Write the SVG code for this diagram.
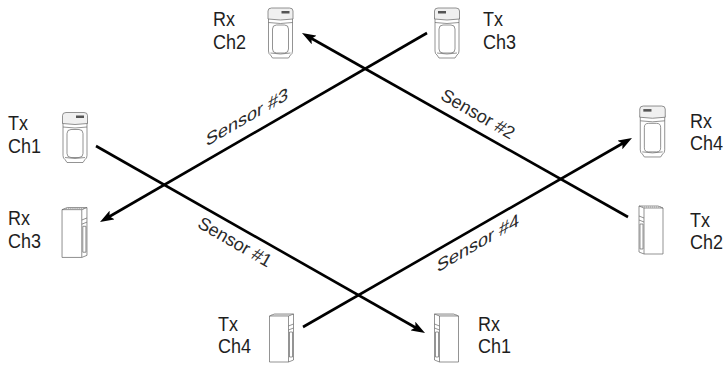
<svg xmlns="http://www.w3.org/2000/svg" xmlns:xlink="http://www.w3.org/1999/xlink" width="723" height="367" viewBox="0 0 723 367">
<style>
.lbl{font-family:"Liberation Sans",Arial,sans-serif;font-size:20px;fill:#1e1e1e}
.sl{font-family:"Liberation Sans",Arial,sans-serif;font-size:18px;fill:#2a2a2a}
.ic{fill:#fff;stroke:#666;stroke-width:0.7;stroke-linejoin:round}
.icn{fill:none;stroke:#666;stroke-width:0.7}
.con{fill:none;stroke:#000;stroke-width:2.6}
</style>
<defs>
<marker id="ah" viewBox="0 0 14 10" refX="8" refY="5" markerWidth="14" markerHeight="10" markerUnits="userSpaceOnUse" orient="auto">
<path d="M0,0 L14,5 L0,10 L3,5 Z" fill="#000"/>
</marker>
<g id="frontShape">
<path class="ic" d="M2,10 L2,44 Q2,47 4,48 L6,51 L22,51 L24,48 Q26,47 26,44 L26,10 Z"/>
<path class="ic" d="M1.5,12 L1.5,4 Q1.5,1 5,1 L23,1 Q26.5,1 26.5,4 L26.5,12 Q14,14 1.5,12 Z" style="fill:#f0f0f0"/>
<rect x="15" y="4" width="8" height="2.5" fill="#555"/>
<path class="icn" d="M2,15.5 Q14,17.5 26,15.5"/>
<rect class="ic" x="6" y="18" width="16" height="28" rx="4"/>
<path class="icn" d="M4,46 Q14,48 24,46"/>
</g>
<g id="sideShape">
<path class="ic" d="M1,3 L6,1 L25,1 L25,47 L20,49 L1,49 Z"/>
<path class="icn" d="M1,3 L20,3 L25,1"/>
<path d="M3,2 L23,2" stroke="#999" stroke-width="1" stroke-dasharray="1,1"/>
<path class="icn" d="M20,3 L20,49"/>
<path class="icn" d="M20,13 L25,11 M20,17 L25,15"/>
<rect class="ic" x="21" y="19" width="3" height="25"/>
</g>
<symbol id="frontR" viewBox="0 0 28 52"><use href="#frontShape"/></symbol>
<symbol id="frontL" viewBox="0 0 28 52"><use href="#frontShape" transform="translate(28,0) scale(-1,1)"/></symbol>
<symbol id="sideR" viewBox="0 0 26 50"><use href="#sideShape"/></symbol>
<symbol id="sideL" viewBox="0 0 26 50"><use href="#sideShape" transform="translate(26,0) scale(-1,1)"/></symbol>
</defs>
<rect width="723" height="367" fill="#fff"/>

<g id="connectors">
<path class="con" d="M96,146 L419.8,330" marker-end="url(#ah)"/>
<path class="con" d="M628,217 L307.2,36" marker-end="url(#ah)"/>
<path class="con" d="M427,33 L105.2,219" marker-end="url(#ah)"/>
<path class="con" d="M303,327 L626.8,141" marker-end="url(#ah)"/>
<text class="sl" text-anchor="middle" transform="translate(235,242) rotate(30)" y="6">Sensor #1</text>
<text class="sl" text-anchor="middle" transform="translate(478,114) rotate(30)" y="6">Sensor #2</text>
<text class="sl" text-anchor="middle" transform="translate(247,117) skewY(-30)" y="6">Sensor #3</text>
<text class="sl" text-anchor="middle" transform="translate(478,243) skewY(-30)" y="6">Sensor #4</text>
</g>

<g id="tx-ch1">
<use href="#frontR" x="61" y="110" width="28" height="55"/>
<text class="lbl" transform="translate(8,130) scale(0.9,1)">Tx</text><text class="lbl" transform="translate(8,153) scale(0.9,1)">Ch1</text>
</g>
<g id="rx-ch3">
<use href="#sideR" x="61" y="206" width="27" height="53"/>
<text class="lbl" transform="translate(8,225) scale(0.9,1)">Rx</text><text class="lbl" transform="translate(8,248) scale(0.9,1)">Ch3</text>
</g>
<g id="rx-ch2">
<use href="#frontR" x="266" y="7" width="29" height="52"/>
<text class="lbl" transform="translate(213,26) scale(0.9,1)">Rx</text><text class="lbl" transform="translate(213,49) scale(0.9,1)">Ch2</text>
</g>
<g id="tx-ch3">
<use href="#frontL" x="433" y="7" width="28" height="52"/>
<text class="lbl" transform="translate(483,26) scale(0.9,1)">Tx</text><text class="lbl" transform="translate(483,49) scale(0.9,1)">Ch3</text>
</g>
<g id="rx-ch4">
<use href="#frontL" x="638" y="105" width="29" height="53"/>
<text class="lbl" transform="translate(690,128) scale(0.9,1)">Rx</text><text class="lbl" transform="translate(690,150) scale(0.9,1)">Ch4</text>
</g>
<g id="tx-ch2">
<use href="#sideL" x="638" y="203" width="26" height="54"/>
<text class="lbl" transform="translate(690,227) scale(0.9,1)">Tx</text><text class="lbl" transform="translate(690,249) scale(0.9,1)">Ch2</text>
</g>
<g id="tx-ch4">
<use href="#sideR" x="267" y="313" width="29" height="50"/>
<text class="lbl" transform="translate(218,331) scale(0.9,1)">Tx</text><text class="lbl" transform="translate(218,353) scale(0.9,1)">Ch4</text>
</g>
<g id="rx-ch1">
<use href="#sideL" x="432" y="313" width="29" height="50"/>
<text class="lbl" transform="translate(478,331) scale(0.9,1)">Rx</text><text class="lbl" transform="translate(478,353) scale(0.9,1)">Ch1</text>
</g>
</svg>
